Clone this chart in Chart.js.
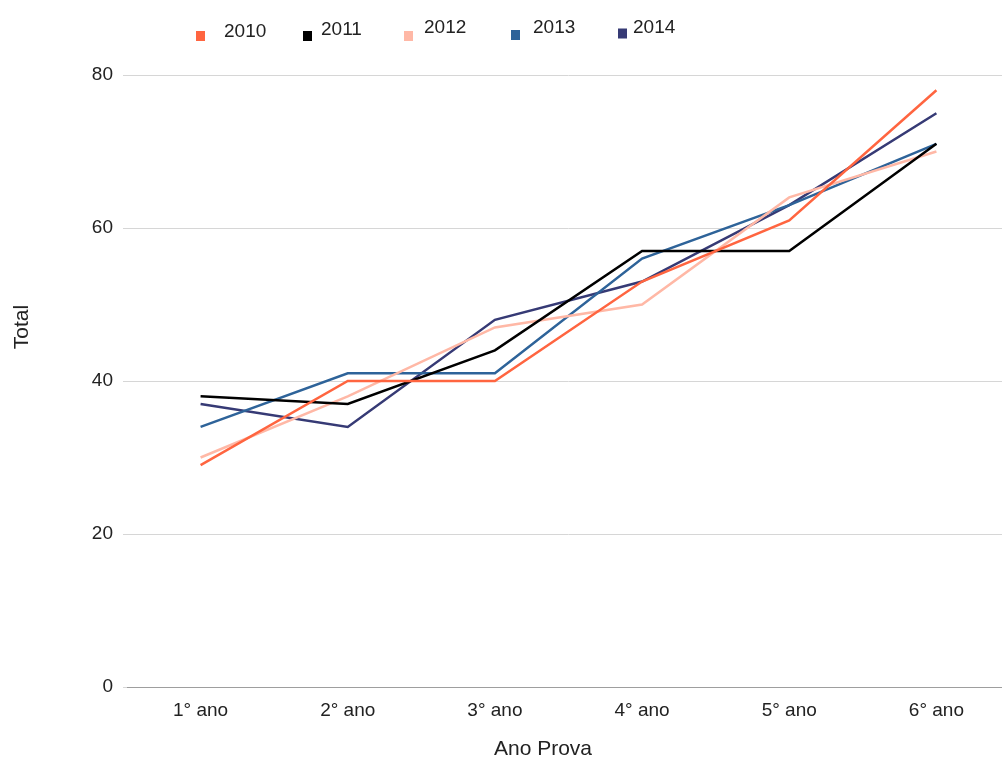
<!DOCTYPE html>
<html>
<head>
<meta charset="utf-8">
<script src="https://cdn.jsdelivr.net/npm/chart.js@4/dist/chart.umd.min.js"></script>
<style>
  html, body { margin: 0; padding: 0; background: #ffffff; overflow: hidden; }
  #wrap { width: 1002px; height: 758px; overflow: hidden; position: relative; }
  canvas { display: block; }
</style>
</head>
<body>
<div id="wrap"><canvas id="chart" width="1010" height="758"></canvas></div>
<script>
// Categories on the x axis
const categories = ['1° ano', '2° ano', '3° ano', '4° ano', '5° ano', '6° ano'];

// Totals per exam year
const series2010 = [29, 40, 40, 53, 61, 78];
const series2011 = [38, 37, 44, 57, 57, 71];
const series2012 = [30, 38, 47, 50, 64, 70];
const series2013 = [34, 41, 41, 56, 63, 71];
const series2014 = [37, 34, 48, 53, 63, 75];

const seriesLabels = ['2010', '2011', '2012', '2013', '2014'];
const yTicks = [0, 20, 40, 60, 80];

const xTitle = 'Ano Prova';
const yTitle = 'Total';

const FONT = 'Arial, "Liberation Sans", sans-serif';

// Legend row drawn along the top (square marker + text, slightly staggered)
const legendLayout = [
  { sx: 196, sy: 31, tx: 224, ty: 32 },
  { sx: 303, sy: 31, tx: 321, ty: 30 },
  { sx: 404, sy: 31, tx: 424, ty: 27.5 },
  { sx: 511, sy: 30, tx: 533, ty: 27.5 },
  { sx: 618, sy: 28.5, tx: 633, ty: 27.5 }
];

const topLegend = {
  id: 'topLegend',
  afterDraw(chart) {
    const ctx = chart.ctx;
    ctx.save();
    ctx.font = '19px ' + FONT;
    ctx.textBaseline = 'middle';
    ctx.textAlign = 'left';
    chart.data.datasets.forEach((ds, i) => {
      const p = legendLayout[i];
      ctx.fillStyle = ds.borderColor;
      ctx.fillRect(p.sx, p.sy, 9, 10);
      ctx.fillStyle = '#222';
      ctx.fillText(ds.label, p.tx, p.ty);
    });
    ctx.restore();
  }
};

const axisTitles = {
  id: 'axisTitles',
  afterDraw(chart) {
    const ctx = chart.ctx;
    ctx.save();
    ctx.font = '21px ' + FONT;
    ctx.fillStyle = '#222';
    ctx.textAlign = 'center';
    ctx.textBaseline = 'middle';
    ctx.fillText(xTitle, 543, 749);
    ctx.translate(22, 327);
    ctx.rotate(-Math.PI / 2);
    ctx.fillText(yTitle, 0, 0);
    ctx.restore();
  }
};

const colors = ['#ff6540', '#000000', '#ffb8a6', '#2e6399', '#363a75'];
const values = [series2010, series2011, series2012, series2013, series2014];

new Chart(document.getElementById('chart'), {
  type: 'line',
  data: {
    labels: categories,
    datasets: seriesLabels.map((lab, i) => ({
      label: lab,
      data: values[i],
      borderColor: colors[i],
      backgroundColor: colors[i],
      borderWidth: 2.5,
      pointRadius: 0,
      tension: 0,
      fill: false
    }))
  },
  options: {
    responsive: false,
    animation: false,
    layout: { padding: { top: 75, left: 0, right: 0, bottom: 0 } },
    plugins: {
      legend: { display: false },
      title: { display: false },
      tooltip: { enabled: false }
    },
    scales: {
      x: {
        offset: true,
        grid: { display: false, drawTicks: false },
        border: { display: true, color: '#9e9e9e', width: 1 },
        ticks: { color: '#222', font: { family: FONT, size: 19 }, padding: 12, maxRotation: 0 },
        afterFit(scale) { scale.height = 71; }
      },
      y: {
        min: 0,
        max: 80,
        afterBuildTicks(scale) { scale.ticks = yTicks.map(v => ({ value: v })); },
        grid: { color: '#d6d6d6', lineWidth: 1, tickLength: 4 },
        border: { display: false },
        ticks: { color: '#222', font: { family: FONT, size: 19 }, padding: 10 },
        afterFit(scale) { scale.width = 127; }
      }
    }
  },
  plugins: [topLegend, axisTitles]
});
</script>
</body>
</html>
